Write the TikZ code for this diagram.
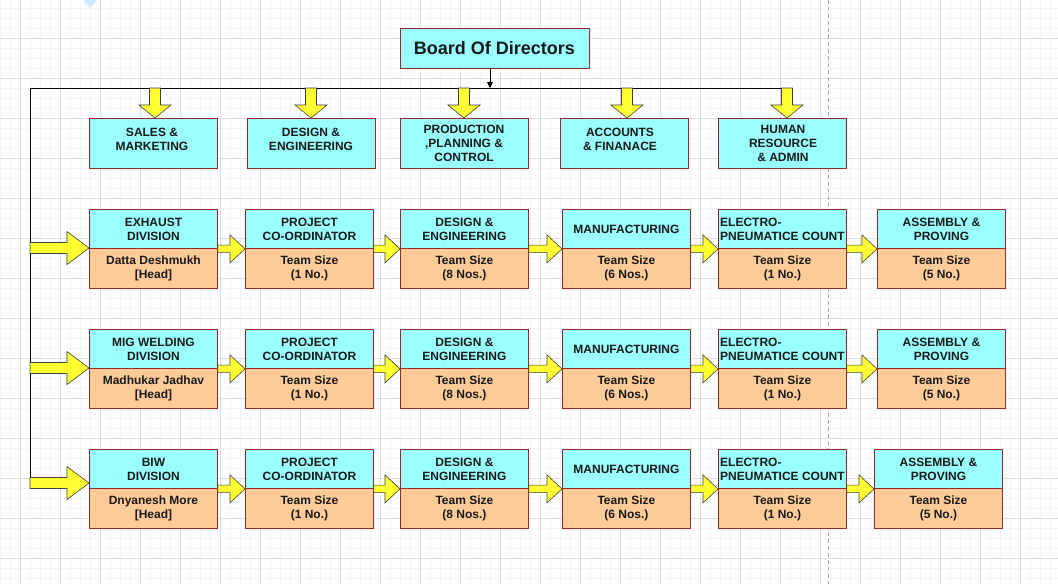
\documentclass[tikz,border=0pt]{standalone}
\usepackage{fontspec}
\setmainfont{Liberation Sans}
\usetikzlibrary{arrows.meta,calc}
\definecolor{cyanf}{RGB}{153,255,255}
\definecolor{orangef}{RGB}{255,204,153}
\definecolor{bord}{RGB}{150,40,40}
\definecolor{yell}{RGB}{255,255,51}
\definecolor{gridmaj}{RGB}{222,222,222}
\definecolor{gridmin}{RGB}{243,243,243}
\definecolor{tri}{RGB}{205,232,255}
\newcommand\blkH[5]{\path[blockarrow] let \p1=#1, \p2=#2 in
  (\x1,{\y1+#3}) -- ({\x2-#5},{\y1+#3}) -- ({\x2-#5},{\y1+#4}) -- (\x2,\y1)
  -- ({\x2-#5},{\y1-#4}) -- ({\x2-#5},{\y1-#3}) -- (\x1,{\y1-#3}) -- cycle;}
\newcommand\blkV[5]{\path[blockarrow] let \p1=#1, \p2=#2 in
  ({\x1-#3},\y1) -- ({\x1-#3},{\y2+#5}) -- ({\x1-#4},{\y2+#5}) -- (\x1,\y2)
  -- ({\x1+#4},{\y2+#5}) -- ({\x1+#3},{\y2+#5}) -- ({\x1+#3},\y1) -- cycle;}
\newcommand\rowboxes[5]{%
  \node[ctop] (r#1c1t) at (89,#2) {#3};
  \node[cbot] (r#1c1b) at (89,#2+39) {#4};
  \node[ctop] (r#1c2t) at (245,#2) {PROJECT\\CO-ORDINATOR};
  \node[cbot] (r#1c2b) at (245,#2+39) {Team Size\\(1 No.)};
  \node[ctop] (r#1c3t) at (400,#2) {DESIGN \&\\ENGINEERING};
  \node[cbot] (r#1c3b) at (400,#2+39) {Team Size\\(8 Nos.)};
  \node[ctop] (r#1c4t) at (562,#2) {MANUFACTURING};
  \node[cbot] (r#1c4b) at (562,#2+39) {Team Size\\(6 Nos.)};
  \node[ctop, align=left] (r#1c5t) at (718,#2) {ELECTRO-\\PNEUMATICE COUNT};
  \node[cbot] (r#1c5b) at (718,#2+39) {Team Size\\(1 No.)};
  \node[ctop] (r#1c6t) at (#5,#2) {ASSEMBLY \&\\PROVING};
  \node[cbot] (r#1c6b) at (#5,#2+39) {Team Size\\(5 No.)};
  \blkH{(r#1c1t.south east)}{(r#1c2t.south west)}{3.75}{14}{15}
  \blkH{(r#1c2t.south east)}{(r#1c3t.south west)}{3.75}{14}{15}
  \blkH{(r#1c3t.south east)}{(r#1c4t.south west)}{3.75}{14}{15}
  \blkH{(r#1c4t.south east)}{(r#1c5t.south west)}{3.75}{14}{15}
  \blkH{(r#1c5t.south east)}{(r#1c6t.south west)}{3.75}{14}{15}
}
\begin{document}
\begin{tikzpicture}[x=1pt,y=-1pt,
  every node/.style={font=\bfseries\fontsize{12}{14}\selectfont, text=black!90},
  boxbase/.style={rectangle, draw=bord, line width=0.9, inner sep=0, align=center},
  ctop/.style={boxbase, fill=cyanf, minimum width=128, minimum height=39, anchor=north west},
  cbot/.style={boxbase, fill=orangef, minimum width=128, minimum height=40, anchor=north west, text depth=3},
  tbox/.style={boxbase, fill=cyanf, minimum width=128, minimum height=50, anchor=north west},
  ttext/.style={align=center, inner sep=0},
  blockarrow/.style={fill=yell, draw=black!75, line width=0.6, line join=miter},
  busline/.style={draw=black, line width=0.9}]
\fill[white] (0,0) rectangle (1058,584);
\useasboundingbox (0,0) rectangle (1058,584);
% grid
\foreach \gx in {0,10,...,1050} \draw[gridmin, line width=0.6] (\gx,0) -- (\gx,584);
\foreach \gy in {8,18,...,578} \draw[gridmin, line width=0.6] (0,\gy) -- (1058,\gy);
\foreach \gx in {20,60,...,1020} \draw[gridmaj, line width=0.8] (\gx,0) -- (\gx,584);
\foreach \gy in {38,78,...,558} \draw[gridmaj, line width=0.8] (0,\gy) -- (1058,\gy);
\draw[black!35, line width=0.6, dash pattern=on 4pt off 3pt] (828,0) -- (828,584);
\fill[tri] (83,0) -- (97,0) -- (90,8) -- cycle;
% board
\node[boxbase, fill=cyanf, minimum width=189, minimum height=40,
      font=\bfseries\fontsize{18}{21}\selectfont] (board) at (494.5,48) {Board Of Directors};
% bus
\coordinate (busL) at (30,88);
\coordinate (busR) at (792,88);
\coordinate (busB) at (490,88);
\coordinate (trunkEnd) at (30,489);
\draw[busline] (trunkEnd) -- (busL) -- (busR) -- ++(0,3);
\draw[black, line width=0.8, -{Triangle[length=6,width=6]}] (busB |- board.south) -- (busB);
% top departments
\node[tbox] (sales) at (89,118) {};
\node[tbox] (design) at (247,118) {};
\node[tbox] (prod) at (400,118) {};
\node[tbox] (acc) at (560,118) {};
\node[tbox] (hr) at (718,118) {};
\node[ttext] (salesT) at (152,139) {SALES \&\\MARKETING};
\node[ttext] (designT) at (311,139) {DESIGN \&\\ENGINEERING};
\node[ttext] (prodT) at (464,143) {PRODUCTION\\,PLANNING \&\\CONTROL};
\node[ttext] (accT) at (620,139) {ACCOUNTS\\\& FINANACE};
\node[ttext] (hrT) at (783,143) {HUMAN\\RESOURCE\\\& ADMIN};
\coordinate (bus1) at (155,88);
\coordinate (bus2) at (311,88);
\coordinate (bus3) at (464,88);
\coordinate (bus4) at (627,88);
\coordinate (bus5) at (787,88);
\blkV{(bus1)}{(bus1 |- sales.north)}{5.5}{16}{13}
\blkV{(bus2)}{(bus2 |- design.north)}{5.5}{16}{13}
\blkV{(bus3)}{(bus3 |- prod.north)}{5.5}{16}{13}
\blkV{(bus4)}{(bus4 |- acc.north)}{5.5}{16}{13}
\blkV{(bus5)}{(bus5 |- hr.north)}{5.5}{16}{13}
% rows
\rowboxes{1}{209}{EXHAUST\\DIVISION}{Datta Deshmukh\\{[Head]}}{877}
\rowboxes{2}{329}{MIG WELDING\\DIVISION}{Madhukar Jadhav\\{[Head]}}{877}
\rowboxes{3}{449}{BIW\\DIVISION}{Dnyanesh More\\{[Head]}}{874}
\coordinate (trunk1) at (30,248);
\coordinate (trunk2) at (30,368);
\coordinate (trunk3) at (30,483);
\blkH{(trunk1)}{(trunk1 -| r1c1t.west)}{5.5}{16.5}{22}
\blkH{(trunk2)}{(trunk2 -| r2c1t.west)}{5.5}{16.5}{22}
\blkH{(trunk3)}{(trunk3 -| r3c1t.west)}{5.5}{16.5}{22}
\end{tikzpicture}
\end{document}
